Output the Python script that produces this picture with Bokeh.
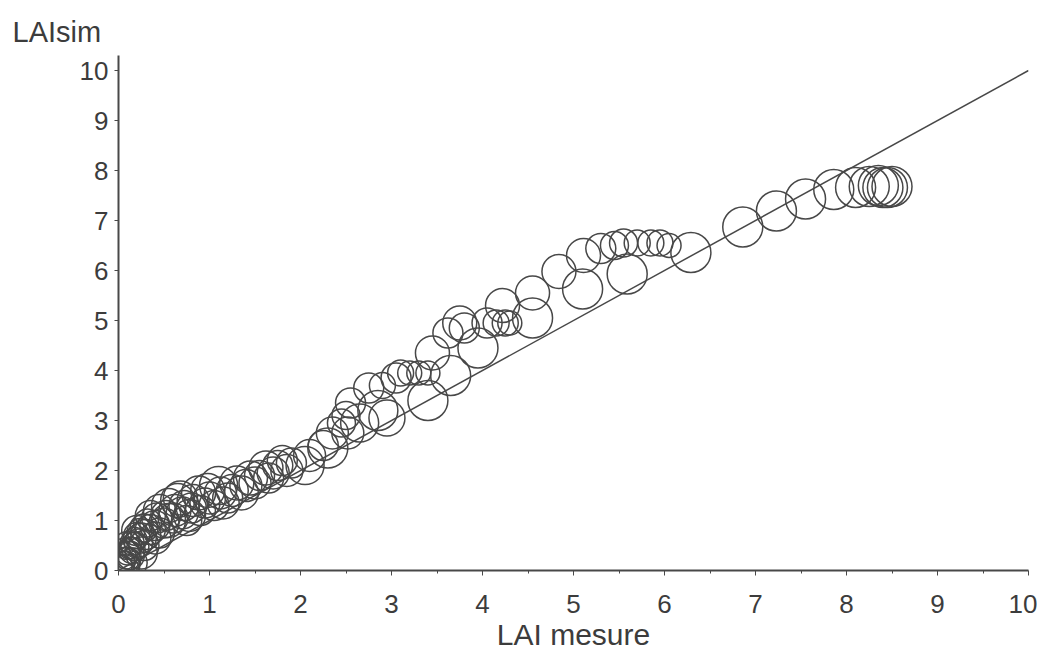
from bokeh.plotting import figure
from bokeh.models import Range1d, FixedTicker, ColumnDataSource
from bokeh.embed import file_html
from bokeh.resources import INLINE

lai_mesure = [0.00, 0.02, 0.03, 0.05, 0.05, 0.08, 0.08, 0.10, 0.10, 0.12,
              0.13, 0.15, 0.15, 0.18, 0.18, 0.20, 0.22, 0.24, 0.25, 0.28,
              0.30, 0.32, 0.35, 0.35, 0.40, 0.42, 0.45, 0.50, 0.52, 0.55,
              0.60, 0.62, 0.68, 0.70, 0.72, 0.80, 0.82, 0.88, 0.90, 0.95,
              1.00, 1.05, 1.10, 1.12, 1.20, 1.25, 1.30, 1.40, 1.45, 1.50,
              1.55, 1.62, 1.65, 1.70, 1.75, 1.80, 1.85, 1.90, 2.05, 2.10,
              2.25, 2.30, 2.35, 2.45, 2.50, 2.52, 2.55, 2.65, 2.75, 2.85,
              2.90, 2.95, 3.05, 3.10, 3.20, 3.30, 3.40, 3.45, 3.40, 3.65,
              3.62, 3.75, 3.80, 3.95, 4.05, 4.15, 4.25, 4.30, 4.22, 4.55,
              4.55, 4.84, 5.10, 5.11, 5.30, 5.45, 5.55, 5.59, 5.70, 5.85,
              5.95, 6.05, 6.29, 6.86, 7.23, 7.55, 7.86, 8.10, 8.25, 8.35,
              8.40, 8.45, 8.50,
              0.10, 0.20, 0.28, 0.40, 0.55, 0.65, 0.78, 0.98, 1.15, 1.35,
              0.06, 0.15, 0.25, 0.45, 0.75]
lai_sim = [0.02, 0.05, 0.10, 0.15, 0.00, 0.25, 0.10, 0.35, 0.20, 0.45,
           0.30, 0.55, 0.40, 0.62, 0.48, 0.70, 0.55, 0.78, 0.65, 0.85,
           0.72, 0.95, 0.82, 1.10, 0.90, 1.05, 1.20, 0.95, 1.10, 1.30,
           1.05, 1.20, 1.45, 1.15, 1.30, 1.25, 1.40, 1.55, 1.20, 1.35,
           1.45, 1.30, 1.70, 1.55, 1.45, 1.60, 1.75, 1.70, 1.85, 1.75,
           1.90, 2.05, 1.85, 1.95, 2.10, 2.20, 2.00, 2.15, 2.10, 2.30,
           2.50, 2.45, 2.75, 2.95, 3.10, 2.75, 3.35, 2.95, 3.65, 3.20,
           3.70, 3.05, 3.85, 3.95, 3.95, 3.95, 3.95, 4.35, 3.40, 3.90,
           4.75, 4.95, 4.85, 4.45, 4.95, 4.95, 4.95, 4.95, 5.30, 5.55,
           5.05, 5.98, 5.63, 6.30, 6.44, 6.50, 6.55, 5.93, 6.55, 6.55,
           6.55, 6.50, 6.36, 6.87, 7.19, 7.43, 7.62, 7.66, 7.68, 7.70,
           7.66, 7.66, 7.68,
           0.50, 0.80, 0.50, 0.65, 1.00, 1.40, 1.10, 1.60, 1.35, 1.55,
           0.30, 0.15, 0.35, 0.75, 1.00]
bubble = [30, 26, 22, 24, 32, 22, 28, 24, 26, 22,
          28, 24, 26, 24, 28, 26, 28, 26, 30, 28,
          30, 28, 30, 30, 30, 30, 32, 30, 30, 34,
          30, 32, 34, 32, 30, 30, 32, 34, 30, 30,
          32, 30, 38, 32, 30, 32, 34, 32, 34, 32,
          30, 34, 30, 32, 30, 30, 32, 30, 38, 32,
          30, 40, 32, 28, 28, 32, 30, 38, 30, 40,
          26, 36, 30, 26, 24, 24, 24, 34, 40, 40,
          30, 34, 30, 40, 30, 26, 26, 24, 34, 34,
          40, 34, 40, 34, 30, 28, 28, 40, 26, 26,
          26, 24, 40, 40, 40, 40, 40, 40, 40, 40,
          40, 40, 40,
          28, 30, 30, 32, 34, 34, 32, 34, 32, 34,
          34, 30, 32, 30, 30]
ticks = [0, 1, 2, 3, 4, 5, 6, 7, 8, 9, 10]
line_x = [0, 10]
line_y = [0, 10]

INK = "#484848"
TXT = "#3c3c3c"
FONT = "Liberation Sans"

p = figure(width=1037, height=656, output_backend="svg", toolbar_location=None,
           x_range=Range1d(0, 10), y_range=Range1d(0, 10.3),
           min_border_left=118, min_border_right=9, min_border_top=55,
           min_border_bottom=86)
p.outline_line_color = None
p.xgrid.visible = False
p.ygrid.visible = False
p.background_fill_color = "white"

src = ColumnDataSource(dict(x=lai_mesure, y=lai_sim, s=bubble))
p.scatter("x", "y", size="s", source=src, marker="circle", fill_color=None,
          line_color=INK, line_width=1.5)
p.line(line_x, line_y, line_color=INK, line_width=1.5)

for ax in (p.xaxis[0], p.yaxis[0]):
    ax.ticker = FixedTicker(ticks=ticks, minor_ticks=[t + 0.5 for t in ticks[:-1]])
    ax.axis_line_color = INK
    ax.axis_line_width = 2
    ax.major_tick_line_color = INK
    ax.minor_tick_line_color = INK
    ax.major_label_text_font = FONT
    ax.major_label_text_font_size = "26px"
    ax.major_label_text_color = TXT
    ax.axis_label_text_font = FONT
    ax.axis_label_text_font_style = "normal"
    ax.axis_label_text_color = TXT

p.xaxis.major_tick_in = 0
p.xaxis.major_tick_out = 5
p.xaxis.minor_tick_in = 0
p.xaxis.minor_tick_out = 3
p.xaxis.major_label_standoff = 19
p.xaxis.axis_label = "LAI mesure"
p.xaxis.axis_label_text_font_size = "30px"
p.xaxis.axis_label_standoff = 2

p.yaxis.major_tick_in = 0
p.yaxis.major_tick_out = 4
p.yaxis.minor_tick_out = 0
p.yaxis.minor_tick_in = 0
p.yaxis.major_label_standoff = 6

p.title.text = "LAIsim"
p.title.align = "left"
p.title.offset = -106
p.title.text_font = FONT
p.title.text_font_size = "29px"
p.title.text_font_style = "normal"
p.title.text_color = TXT
p.title.standoff = 16

open("out.html", "w").write(file_html(p, INLINE))
